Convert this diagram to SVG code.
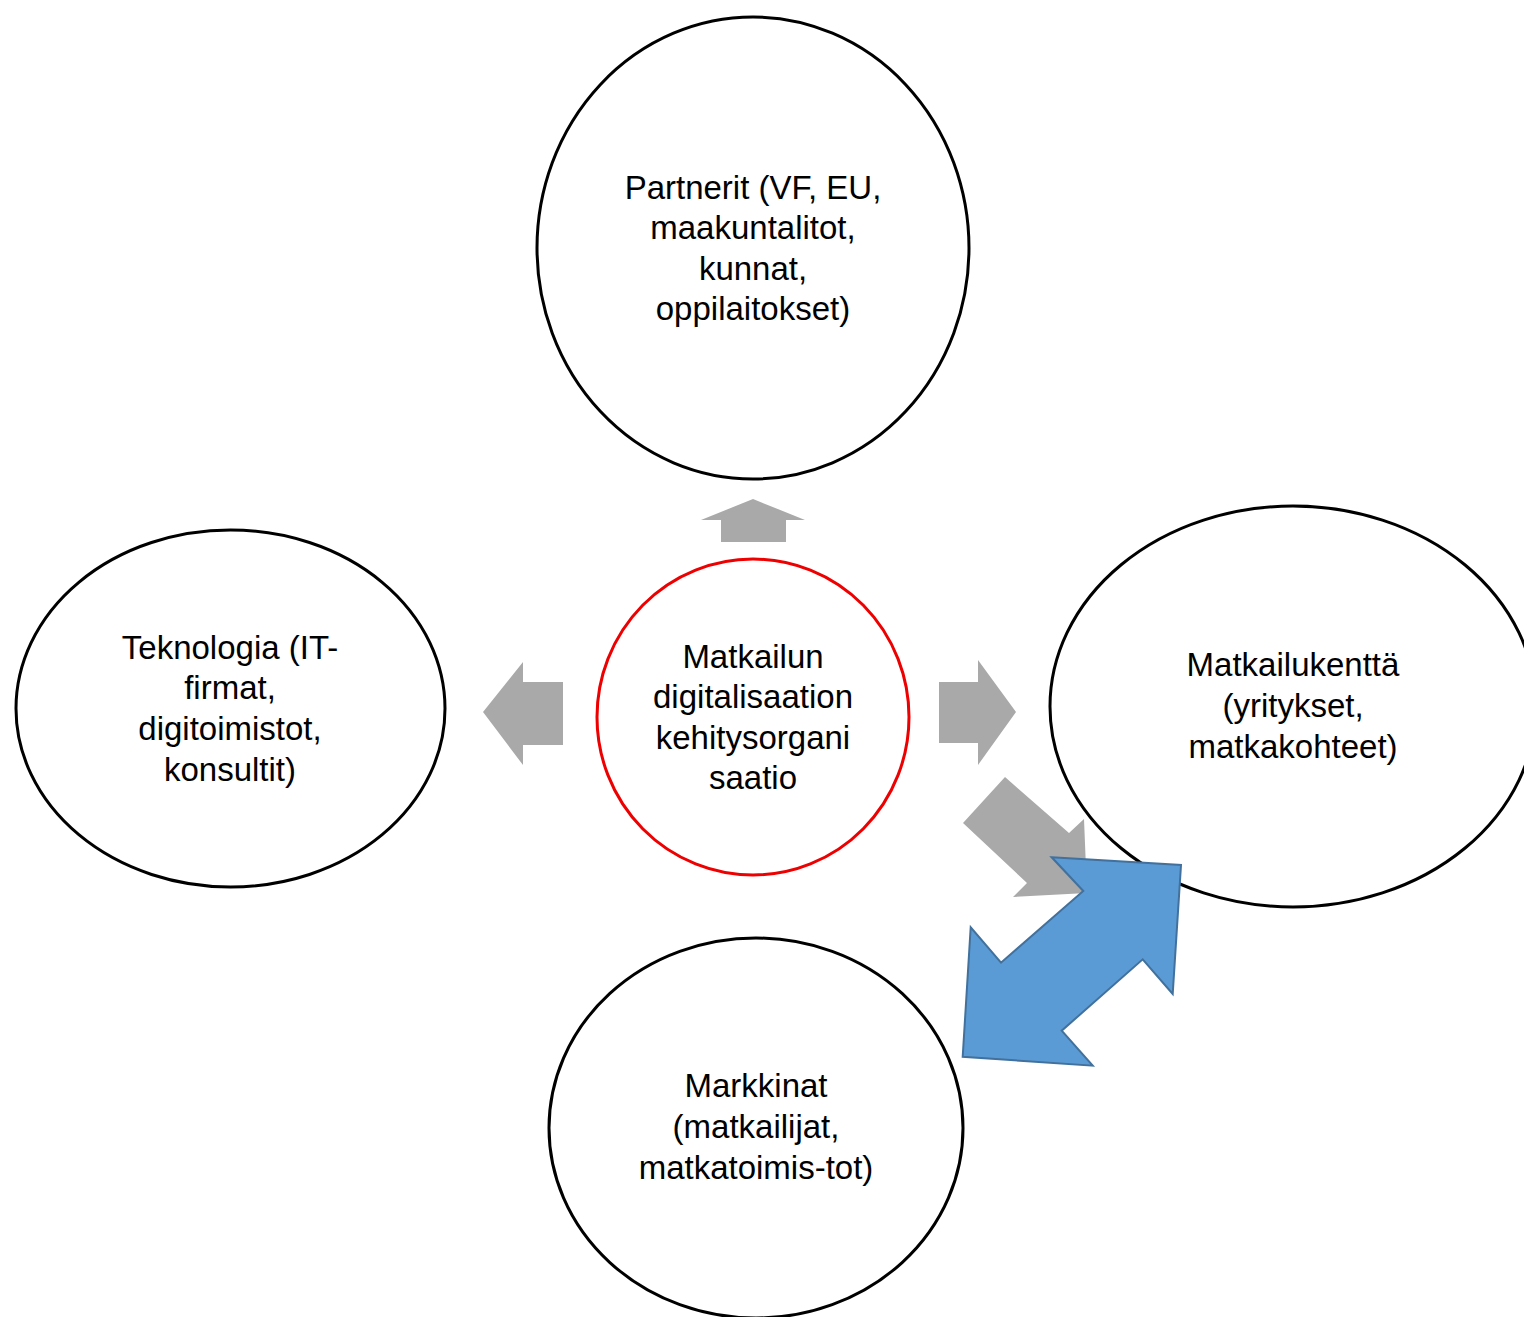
<svg xmlns="http://www.w3.org/2000/svg" width="1524" height="1317" viewBox="0 0 1524 1317">
<style>
.node{fill:#fff;stroke:#000;stroke-width:3}
.red{fill:#fff;stroke:#e00;stroke-width:3}
.gray{fill:#a9a9a9;stroke:none}
.blue{fill:#5b9bd5;stroke:#41719c;stroke-width:2}
text{font-family:"Liberation Sans",Arial,sans-serif;font-size:33px;fill:#000;text-anchor:middle}
</style>
<rect width="1524" height="1317" fill="#fff"/>
<g id="partnerit">
<ellipse class="node" cx="753" cy="248" rx="216" ry="231"/>
<text x="753" y="199">Partnerit (VF, EU,</text>
<text x="753" y="239">maakuntalitot,</text>
<text x="753" y="280">kunnat,</text>
<text x="753" y="320">oppilaitokset)</text>
</g>
<g id="teknologia">
<ellipse class="node" cx="230.5" cy="708.5" rx="214.5" ry="178.5"/>
<text x="230" y="659">Teknologia (IT-</text>
<text x="230" y="699">firmat,</text>
<text x="230" y="740">digitoimistot,</text>
<text x="230" y="781">konsultit)</text>
</g>
<g id="saatio">
<ellipse class="red" cx="753" cy="717" rx="156" ry="158"/>
<text x="753" y="668">Matkailun</text>
<text x="753" y="708">digitalisaation</text>
<text x="753" y="749">kehitysorgani</text>
<text x="753" y="789">saatio</text>
</g>
<g id="matkailukentta">
<ellipse class="node" cx="1293" cy="706.5" rx="243" ry="200.5"/>
<text x="1293" y="676">Matkailukenttä</text>
<text x="1293" y="717">(yritykset,</text>
<text x="1293" y="758">matkakohteet)</text>
</g>
<g id="markkinat">
<ellipse class="node" cx="756" cy="1128" rx="207" ry="190"/>
<text x="756" y="1097">Markkinat</text>
<text x="756" y="1138">(matkailijat,</text>
<text x="756" y="1179">matkatoimis-tot)</text>
</g>
<g id="connectors">
<polygon class="gray" points="753,499 805,520 786,520 786,542 721,542 721,520 701,520"/>
<polygon class="gray" points="483,712 523,662 523,682 563,682 563,745 523,745 523,765"/>
<polygon class="gray" points="1016,712 978,660 978,682 939,682 939,743 978,743 978,765"/>
<polygon class="gray" points="1005,777 1069,833 1084,819 1087,893 1013,897 1027,883 963,823"/>
<polygon class="blue" points="1051.7,857.3 1181,865 1172.7,994 1142.7,959.3 1061.7,1030.7 1092.7,1065.7 962.7,1056.7 970.7,927.3 1001,962.7 1083.3,891"/>
</g>
</svg>
